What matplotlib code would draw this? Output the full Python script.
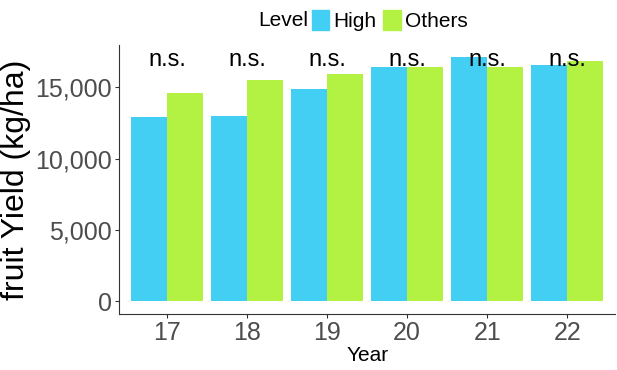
import matplotlib.pyplot as plt
import numpy as np
from matplotlib.patches import Patch
from matplotlib.ticker import FuncFormatter

plt.rcParams['font.family'] = ['Liberation Sans', 'DejaVu Sans']

years = ['17', '18', '19', '20', '21', '22']
high = [12900, 12950, 14850, 16400, 17150, 16550]
others = [14600, 15500, 15950, 16450, 16450, 16850]
sig = ['n.s.'] * 6
label_y = 16900

c_high = '#43CEF4'
c_others = '#B3F243'

fig = plt.figure(figsize=(6.17, 3.7), dpi=100)
ax = fig.add_axes([0.193, 0.151, 0.804, 0.727])

x = np.arange(len(years))
w = 0.45
ax.bar(x - w / 2, high, w, color=c_high)
ax.bar(x + w / 2, others, w, color=c_others)

for xi, s in zip(x, sig):
    ax.text(xi, label_y, s, ha='center', va='center', fontsize=17, color='black')

ax.set_xlim(-0.6, len(years) - 0.4)
ax.set_ylim(-910, 17950)
ax.set_xticks(x)
ax.set_xticklabels(years)
ax.set_yticks([0, 5000, 10000, 15000])
ax.yaxis.set_major_formatter(FuncFormatter(lambda v, p: f'{int(v):,}'))
ax.tick_params(labelsize=18, labelcolor='#4D4D4D', color='#333333', length=3, pad=2)
for side in ['top', 'right']:
    ax.spines[side].set_visible(False)
for side in ['left', 'bottom']:
    ax.spines[side].set_color('#333333')

ax.set_xlabel('Year', fontsize=15, labelpad=1)
ax.set_ylabel('fruit Yield (kg/ha)', fontsize=23, labelpad=3)

fig.text(0.418, 0.945, 'Level', fontsize=15, ha='left', va='center')
handles = [Patch(color=c_high, label='High'), Patch(color=c_others, label='Others')]
fig.legend(handles=handles, loc='center left', bbox_to_anchor=(0.505, 0.945), ncol=2,
           frameon=False, fontsize=15, handlelength=0.85, handleheight=1.1,
           handletextpad=0.2, columnspacing=0.3, borderpad=0, borderaxespad=0)

fig.savefig('out.png', dpi=100)
